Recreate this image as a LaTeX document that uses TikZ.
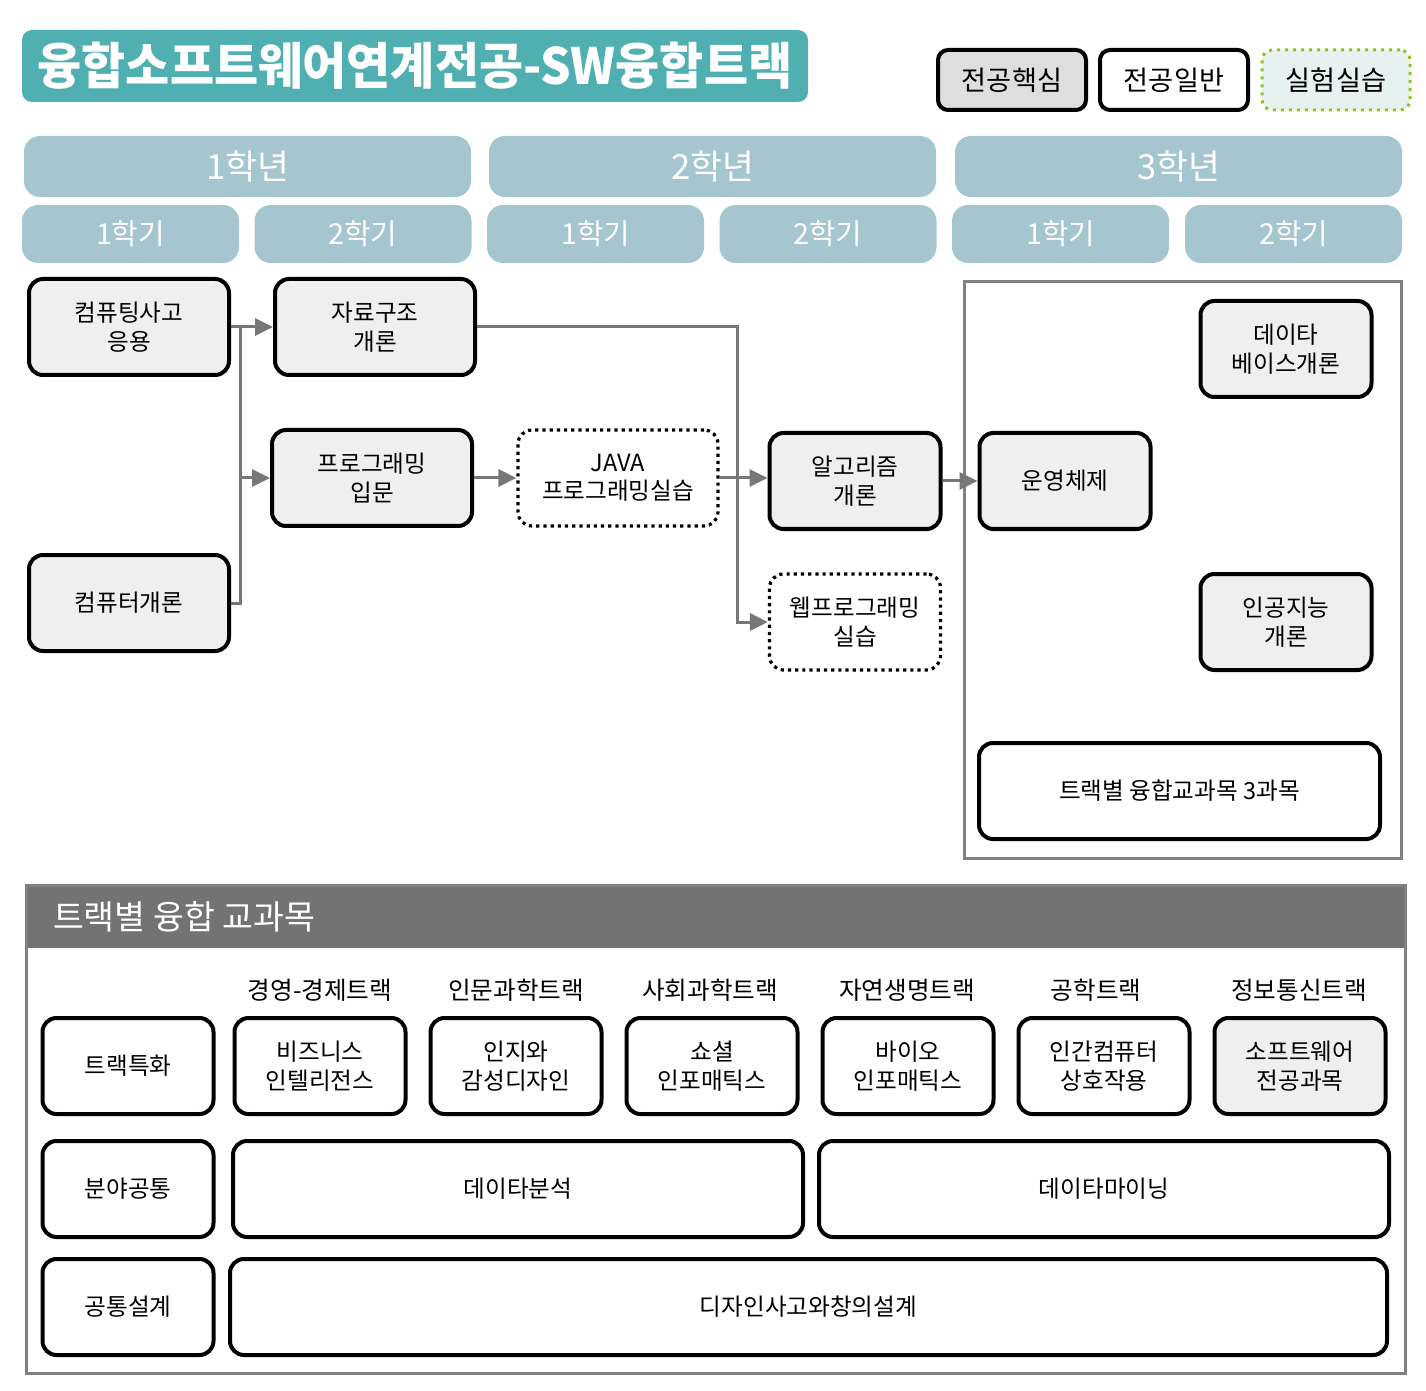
\documentclass[tikz,border=0pt]{standalone}
\usepackage{fontspec}
\setmainfont{Noto Sans CJK KR}
\newfontfamily\titlefont{Noto Sans CJK KR}[FakeStretch=0.96]
\usepackage{tikz}
\usetikzlibrary{arrows.meta,calc,positioning}
\definecolor{titleteal}{HTML}{50AFB0}
\definecolor{yearblue}{HTML}{A5C6CE}
\definecolor{corefill}{HTML}{EFEFEF}
\definecolor{keyfill}{HTML}{DDDEDD}
\definecolor{labfill}{HTML}{E6F2EF}
\definecolor{labgreen}{HTML}{95C11F}
\definecolor{linkgray}{HTML}{777777}
\definecolor{framegray}{HTML}{808080}
\definecolor{headgray}{HTML}{737373}
\tikzset{%
	yearbar/.style = {fill=yearblue, rounded corners=8pt, minimum width=223.5pt, minimum height=30.5pt, text=white, font=\fontsize{17.3}{19}\selectfont},
	termbar/.style = {fill=yearblue, rounded corners=8pt, minimum width=108.5pt, minimum height=29pt, text=white, font=\fontsize{14.4}{16}\selectfont},
	core/.style    = {draw, line width=2pt, rounded corners=7pt, fill=corefill, minimum width=100pt, minimum height=48pt, align=center, inner sep=2pt, font=\fontsize{11.8}{14.2}\selectfont},
	narrow/.style  = {minimum width=85.5pt},
	basic/.style   = {core, fill=white},
	lab/.style     = {core, fill=white, line width=1.6pt, dash pattern=on 1.6pt off 2pt},
	key/.style     = {draw, line width=2pt, rounded corners=5pt, minimum width=74pt, minimum height=30pt, font=\fontsize{13.6}{15}\selectfont},
	track/.style   = {font=\fontsize{12.3}{14}\selectfont},
	arrow/.style   = {draw=linkgray, line width=1.5pt, -{Triangle[length=9pt,width=8.5pt]}},
	link/.style    = {draw=linkgray, line width=1.5pt},
	frame/.style   = {draw=framegray, line width=1.5pt},
}

\begin{document}
\begin{tikzpicture}[x=0.5pt,y=-0.5pt]
	\useasboundingbox (0,0) rectangle (1426,1391);
	
	% title and legend
	\node[fill=titleteal, rounded corners=5pt, minimum width=393pt, minimum height=36pt, text=white, font=\titlefont\bfseries\fontsize{25}{27}\selectfont] (title) at (415,66) {융합소프트웨어연계전공-SW융합트랙};
	\node[key, fill=keyfill] (keycore) at (1012,80) {전공핵심};
	\node[key, fill=white] (keybasic) at (1174,80) {전공일반};
	\node[key, draw=labgreen, fill=labfill, line width=1.5pt, dash pattern=on 1.5pt off 2.5pt] (keylab) at (1336,80) {실험실습};
	
	% years and terms
	\node[yearbar] (y1) at (247.5,166.5) {1학년};
	\node[yearbar] (y2) at (712.5,166.5) {2학년};
	\node[yearbar] (y3) at (1178.5,166.5) {3학년};
	\node[termbar] (t11) at (130.5,234) {1학기};
	\node[termbar] (t12) at (363,234) {2학기};
	\node[termbar] (t21) at (595.5,234) {1학기};
	\node[termbar] (t22) at (828,234) {2학기};
	\node[termbar] (t31) at (1060.5,234) {1학기};
	\node[termbar] (t32) at (1293.5,234) {2학기};
	
	% courses
	\node[core] (cta) at (129,327) {컴퓨팅사고\\응용};
	\node[core] (ct) at (129,603) {컴퓨터개론};
	\node[core] (ds) at (375,327) {자료구조\\개론};
	\node[core] (pi) at (372,478) {프로그래밍\\입문};
	\node[lab] (java) at (618,478) {JAVA\\프로그래밍실습};
	\node[core, narrow] (alg) at (855,481) {알고리즘\\개론};
	\node[lab, narrow] (web) at (855,622) {웹프로그래밍\\실습};
	\draw[frame] (964,282) rectangle (1401,858);  % 3rd year box
	\node[core, narrow] (os) at (1065,481) {운영체제};
	\node[core, narrow] (db) at (1286,349) {데이타\\베이스개론};
	\node[core, narrow] (ai) at (1286,622) {인공지능\\개론};
	\node[basic, minimum width=200.5pt] (conv) at (1179.5,791) {트랙별 융합교과목 3과목};
	
	% connectors
	\coordinate (busL) at (240,327);
	\coordinate (busM) at (737,327);
	\draw[arrow] (cta.east) -- (ds.west);
	\draw[link] (ct.east) -| (busL);
	\draw[arrow] (busL |- pi.west) -- (pi.west);
	\draw[arrow] (pi.east) -- (java.west);
	\draw[arrow] (ds.east) -- (busM) |- (web.west);
	\draw[arrow] (java.east) -- (java.east -| alg.west);
	\draw[arrow] (alg.east) -- (os.west);
	
	% track courses
	\fill[headgray] (26,885) rectangle (1405,948);
	\draw[frame] (26,885) rectangle (1405,1373);
	\node[anchor=west, text=white, font=\fontsize{16.8}{19}\selectfont] (head) at (46,917) {트랙별 융합 교과목};
	
	\node[track] (tr1) at (320,990) {경영-경제트랙};
	\node[track] (tr2) at (516,990) {인문과학트랙};
	\node[track] (tr3) at (710,990) {사회과학트랙};
	\node[track] (tr4) at (907,990) {자연생명트랙};
	\node[track] (tr5) at (1096,990) {공학트랙};
	\node[track] (tr6) at (1299,990) {정보통신트랙};
	
	\node[basic, narrow] (spec) at (128,1066) {트랙특화};
	\node[basic, narrow] (bi) at (320,1066) {비즈니스\\인텔리전스};
	\node[basic, narrow] (cog) at (516,1066) {인지와\\감성디자인};
	\node[basic, narrow] (soc) at (712,1066) {쇼셜\\인포매틱스};
	\node[basic, narrow] (bio) at (908,1066) {바이오\\인포매틱스};
	\node[basic, narrow] (hci) at (1104,1066) {인간컴퓨터\\상호작용};
	\node[core, narrow] (swm) at (1300,1066) {소프트웨어\\전공과목};
	
	\node[basic, narrow] (field) at (128,1189) {분야공통};
	\node[basic, minimum width=285pt] (da) at (518,1189) {데이타분석};
	\node[basic, minimum width=285pt] (dm) at (1104,1189) {데이타마이닝};
	
	\node[basic, narrow] (cap) at (128,1307) {공통설계};
	\node[basic, minimum width=578.5pt] (dt) at (808.5,1307) {디자인사고와창의설계};
	
\end{tikzpicture}
\end{document}
